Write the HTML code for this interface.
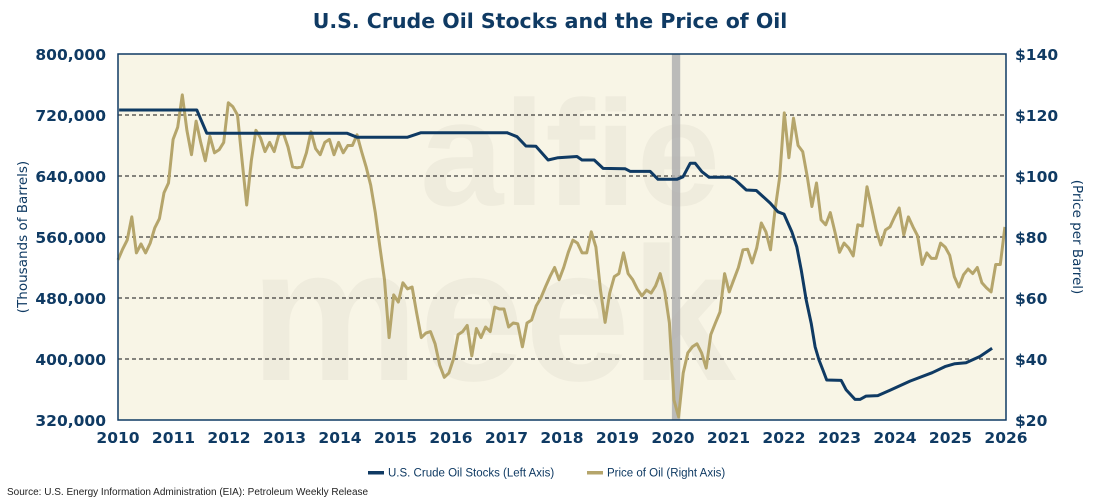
<!DOCTYPE html>
<html><head><meta charset="utf-8"><style>
body{margin:0;background:#fff;}
svg{display:block;font-family:"Liberation Sans",sans-serif;}
</style></head><body>
<svg id="chart" width="1100" height="500" viewBox="0 0 1100 500" xmlns="http://www.w3.org/2000/svg">
<text x="550" y="28" text-anchor="middle" font-family="'DejaVu Sans',sans-serif" font-size="20.5" font-weight="bold" fill="#0f3a63">U.S. Crude Oil Stocks and the Price of Oil</text>
<rect x="118" y="54" width="888" height="366" fill="#f8f5e6"/>
<g fill="#eeeadb" font-weight="bold" opacity="0.8">
<text x="420" y="205" font-size="150">alfie</text>
<text x="250" y="380" font-size="190">meek</text>
</g>
<g id="grid"></g>
<rect id="rec" y="54" height="366" fill="#b0b0b0" opacity="0.85"/>
<g id="series"></g>
<rect x="118" y="54" width="888" height="366" fill="none" stroke="#0f3a63" stroke-width="1.5"/>
<g id="axes" font-family="'DejaVu Sans',sans-serif" font-weight="bold" font-size="15.5" fill="#0f3a63"></g>
<text transform="translate(27,237) rotate(-90)" text-anchor="middle" font-family="'DejaVu Sans',sans-serif" font-size="13.5" fill="#0f3a63">(Thousands of Barrels)</text>
<text transform="translate(1073,237) rotate(90)" text-anchor="middle" font-family="'DejaVu Sans',sans-serif" font-size="13.5" fill="#0f3a63">(Price per Barrel)</text>
<g font-family="'Liberation Sans Narrow','Liberation Sans',sans-serif" font-size="11.5" fill="#0f3a63">
<g><rect x="368" y="471" width="16" height="3.5" fill="#0f3a63"/><text x="388" y="476.5">U.S. Crude Oil Stocks (Left Axis)</text></g>
<g><rect x="587" y="471" width="16" height="3.5" fill="#b5a56b"/><text x="607" y="476.5">Price of Oil (Right Axis)</text></g>
</g>
<text x="7" y="495" font-family="'Liberation Sans Narrow','Liberation Sans',sans-serif" font-size="10" fill="#222">Source: U.S. Energy Information Administration (EIA): Petroleum Weekly Release</text>
</svg>
<script>
const xTicks=[2010,2011,2012,2013,2014,2015,2016,2017,2018,2019,2020,2021,2022,2023,2024,2025,2026];
const leftTicks=[320000,400000,480000,560000,640000,720000,800000];
const rightTicks=[20,40,60,80,100,120,140];
const recession=[2019.98,2020.13];
const oilStart=2010.0;
const oilEnd=2025.98;
const oilPrice=[72.5,76,79,86.6,74.8,77.7,74.8,78,83,86,94.5,97.7,112,116,126.6,115,107,118,111,105,113,107.6,108.6,111,
124,122.7,120,105,90.5,105,115,112.5,108,111,108,113.5,114,109.5,103,102.7,103,107.6,114.5,109,107,111,112,107,111,107.6,110,110,113.5,108,103,97,88,76.7,66,47,61,58.7,65,63,63.6,55,47,48.5,49,45,
38,34,35.4,40,48,49,51,41,50,47,50.5,49,57,56.4,56.4,50.5,51.8,51.5,44,51.8,52.8,57.4,60,63.6,67,70,66,70,75,79,78,74.8,74.8,81.7,76.7,62.6,52,61.6,67,68,74.8,68,66,63,60.7,62.6,61.6,64,68,62,51.8,26.5,21,35.4,
42,44,45,42,37,48,51.8,55.4,68,62,66,70,75.8,76,71.5,76.4,84.6,81.7,75.8,89,99.7,120.7,106,119,110,108,99.7,90,97.7,85.6,84,88,81.7,75,78,76.4,73.8,84,83.6,96.5,89.5,82.3,77.4,82.3,83.3,86.6,89.5,80.7,86.6,83.3,80.4,71,74.8,73,73,78,76.7,74,67,63.6,67.6,69.5,68,70,65,63.3,62,71,71,83.3];
const stockDates=[2010.02,2011.42,2011.6,2014.13,2014.31,2015.21,2015.46,2017.01,2017.19,2017.35,2017.53,2017.75,2017.93,2018.27,2018.36,2018.58,2018.74,2019.14,2019.23,2019.59,2019.73,2020.07,2020.18,2020.31,2020.4,2020.52,2020.65,2021.03,2021.12,2021.32,2021.5,2021.75,2021.89,2022.0,2022.07,2022.14,2022.23,2022.31,2022.4,2022.49,2022.56,2022.63,2022.7,2022.77,2023.03,2023.12,2023.28,2023.37,2023.48,2023.69,2023.91,2024.27,2024.67,2024.9,2025.08,2025.28,2025.53,2025.75];
const stockValues=[726600,726600,696000,696000,690700,690700,696800,696800,691600,679300,679000,661000,664000,665600,661000,661000,650000,649500,646000,646000,635700,635700,639000,656700,656700,645700,638300,638300,635000,621600,621000,604600,593000,590000,578400,567000,547000,517000,477400,446800,416000,398700,385600,372500,372000,359500,347000,347000,351300,352000,359000,371000,382000,390000,393800,395000,403300,414000];

const NS='http://www.w3.org/2000/svg';
const L=118,R=1006,T=54,B=420;
const x=y=>L+(y-2010)/16*(R-L);
const yl=v=>B-(v-320000)/480000*(B-T);
const yr=v=>B-(v-20)/120*(B-T);
function mk(tag,attrs,parent){const e=document.createElementNS(NS,tag);for(const k in attrs)e.setAttribute(k,attrs[k]);parent.appendChild(e);return e;}
const grid=document.getElementById('grid'),axes=document.getElementById('axes'),series=document.getElementById('series');
leftTicks.forEach((v,i)=>{
  if(i>0&&i<leftTicks.length-1){const g=mk('line',{x1:L,x2:R,y1:yl(v),y2:yl(v),stroke:'#111','stroke-width':1,'stroke-dasharray':'4,3'},grid);
  
  }
  const t=mk('text',{x:106,y:yl(v)+6,'text-anchor':'end'},axes);t.textContent=v.toLocaleString('en-US');
  
  
});
rightTicks.forEach(v=>{
  const t=mk('text',{x:1015,y:yr(v)+6},axes);t.textContent='$'+v;
  
  
});
xTicks.forEach(v=>{
  const t=mk('text',{x:x(v),y:443,'text-anchor':'middle'},axes);t.textContent=v;
  
  
});
const rec=document.getElementById('rec');rec.setAttribute('x',x(recession[0]));rec.setAttribute('width',x(recession[1])-x(recession[0]));
const step=(oilEnd-oilStart)/(oilPrice.length-1);
const op=mk('polyline',{points:oilPrice.map((v,i)=>x(oilStart+i*step).toFixed(1)+','+yr(v).toFixed(1)).join(' '),fill:'none',stroke:'#b5a56b','stroke-width':3,'stroke-linejoin':'round'},series);


const sp=mk('polyline',{points:stockValues.map((v,i)=>x(stockDates[i]).toFixed(1)+','+yl(v).toFixed(1)).join(' '),fill:'none',stroke:'#0f3a63','stroke-width':3,'stroke-linejoin':'round'},series);


</script>
</body></html>
